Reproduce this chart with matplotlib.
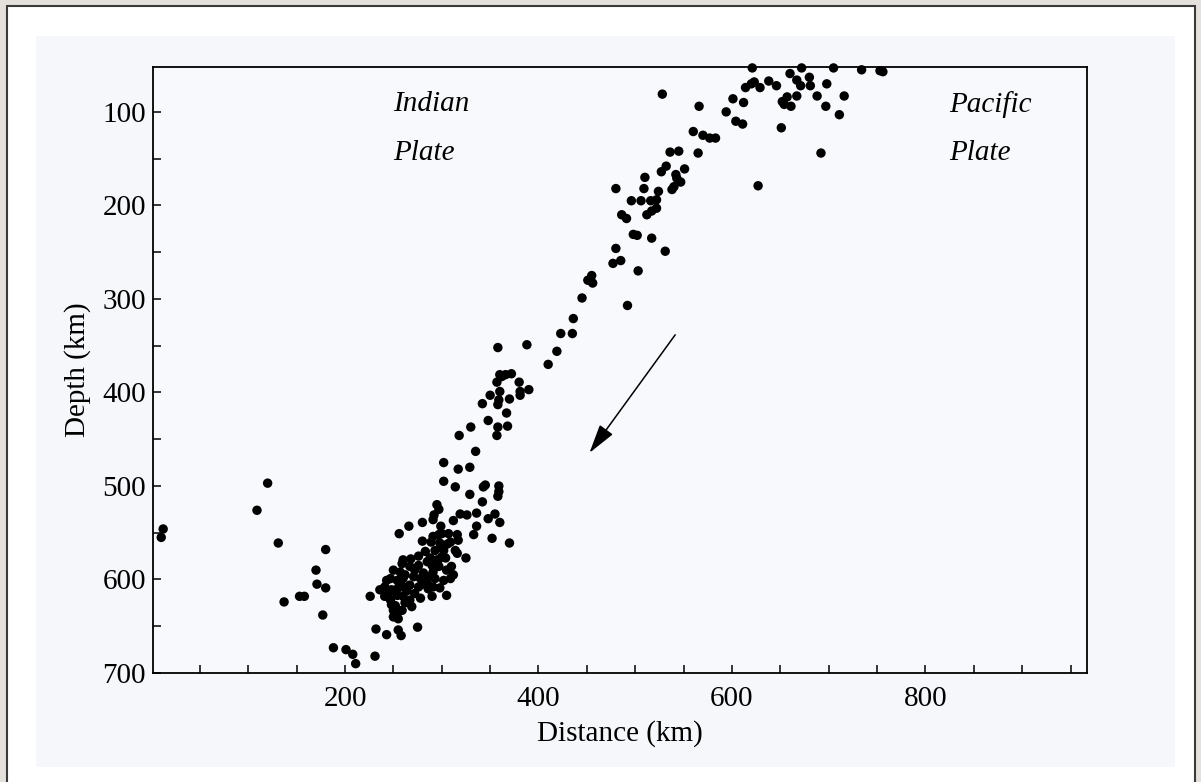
import matplotlib
matplotlib.use("Agg")
import matplotlib.pyplot as plt
from matplotlib.patches import Rectangle
from matplotlib.ticker import MultipleLocator

# earthquake hypocentres (distance km, depth km)
distance = [
    621, 660, 672, 705, 734, 753, 756, 614, 623, 629, 620, 638, 646, 667, 671,
    680, 681, 698, 688, 716, 667, 657, 652, 654, 661, 697, 711, 601, 612, 566,
    594, 604, 611, 651, 560, 570, 577, 583, 565, 692, 551, 627, 528,
    536, 545, 532, 527, 542, 543, 547, 540, 538, 510, 509, 524, 480, 496, 506,
    516, 522, 522, 517, 512, 486, 491, 498, 502, 517, 531, 480, 477, 485, 503,
    455, 451, 456, 445, 492, 436, 423, 435,
    358, 388, 419, 410, 360, 366, 372, 357, 362, 380, 381, 381, 390, 360, 350,
    359, 358, 370, 342, 367, 348, 358, 368, 357, 330, 318, 335, 302, 317, 329,
    302, 314, 345, 343, 359, 359, 358, 329, 342, 295, 297, 292, 291, 280, 299,
    312, 319, 326, 336, 336, 348, 355, 360,
    333, 352, 370, 325, 256, 266, 280, 289, 291, 297, 300, 307, 316, 317, 309,
    298, 302, 293, 314, 316,
    260, 259, 250, 257, 267, 276, 285, 288, 295, 300, 297, 291, 305, 310, 312,
    243, 247, 254, 260, 271, 278, 285, 293, 302, 309, 236, 241, 248, 255, 260,
    267, 276, 285, 291, 298, 226, 241, 247, 254, 260, 267, 278, 290, 305, 248,
    250, 254, 259, 269, 250, 255, 232, 243, 255, 258, 275, 231,
    262, 272, 281, 290, 296, 304, 286, 264, 272, 280, 252, 262, 245, 300, 306,
    283, 276, 268,
    120, 109, 131, 180, 170, 171, 180, 137, 153, 158, 177, 188, 201, 208, 211,
    12, 10,
]
depth = [
    53, 59, 53, 53, 55, 56, 57, 74, 68, 74, 70, 67, 72, 66, 72,
    63, 72, 70, 83, 83, 83, 84, 89, 92, 94, 94, 103, 86, 90, 94,
    100, 110, 113, 117, 121, 125, 128, 128, 144, 144, 161, 179, 81,
    143, 142, 158, 164, 167, 171, 175, 180, 183, 170, 182, 185, 182, 195, 195,
    195, 194, 203, 206, 210, 210, 214, 231, 232, 235, 249, 246, 262, 259, 270,
    275, 280, 283, 299, 307, 321, 337, 337,
    352, 349, 356, 370, 381, 381, 380, 389, 383, 389, 399, 403, 397, 399, 403,
    408, 413, 407, 412, 422, 430, 437, 436, 446, 437, 446, 463, 475, 482, 480,
    495, 501, 499, 501, 500, 506, 511, 509, 517, 520, 525, 531, 536, 539, 543,
    537, 530, 531, 529, 543, 535, 530, 539,
    552, 556, 561, 577, 551, 543, 559, 560, 554, 552, 551, 551, 552, 558, 560,
    561, 569, 569, 569, 572,
    579, 583, 590, 592, 586, 585, 581, 577, 579, 576, 586, 592, 590, 586, 595,
    601, 599, 601, 599, 597, 599, 597, 599, 601, 599, 611, 608, 611, 609, 608,
    606, 608, 604, 608, 609, 618, 618, 622, 617, 618, 622, 620, 618, 617, 627,
    633, 636, 633, 629, 640, 642, 653, 659, 654, 660, 651, 682,
    595, 590, 593, 585, 580, 577, 610, 612, 615, 605, 628, 625, 615, 566, 562,
    570, 575, 578,
    497, 526, 561, 568, 590, 605, 609, 624, 618, 618, 638, 673, 675, 680, 690,
    546, 555,
]

plate_lines = ["Indian", "Plate", "Pacific", "Plate"]
plate_x = [250, 250, 824, 824]
plate_y = [92, 144, 92, 144]

arrow_tail = (543, 336)
arrow_head = (451, 467)

plt.rcParams['font.family'] = ['Liberation Serif', 'DejaVu Serif']

fig = plt.figure(figsize=(12.01, 7.82), dpi=100, facecolor='#e4e1dd')

# scanned page look: white card with a dark edge, slightly bluish print area
fig.patches.append(Rectangle((7 / 1201, -0.01), 1188 / 1201, 1 - 6 / 782 + 0.01,
                             transform=fig.transFigure, facecolor='white',
                             edgecolor='#3a3a3a', linewidth=1.5, zorder=-3))
fig.patches.append(Rectangle((36 / 1201, 1 - 767 / 782), 1139 / 1201, 731 / 782,
                             transform=fig.transFigure, facecolor='#f5f7fb',
                             edgecolor='none', zorder=-2))

ax = fig.add_axes([153 / 1201, 1 - 673 / 782, 934 / 1201, 606 / 782])
ax.set_facecolor('#f8f9fc')

ax.scatter(distance, depth, s=46, color='black', edgecolors='none', clip_on=False, zorder=3)

ax.annotate('', xy=arrow_head, xytext=arrow_tail,
            arrowprops=dict(arrowstyle='-|>,head_length=0.9,head_width=0.25',
                            color='black', lw=1.1, mutation_scale=20))

for label, xpos, ypos in zip(plate_lines, plate_x, plate_y):
    ax.text(xpos, ypos, label, fontsize=21, fontstyle='italic', ha='left', va='center')

ax.set_xlim(1.5, 967)
ax.set_ylim(700, 52)

ax.xaxis.set_major_locator(MultipleLocator(200))
ax.xaxis.set_minor_locator(MultipleLocator(50))
ax.yaxis.set_major_locator(MultipleLocator(100))
ax.yaxis.set_minor_locator(MultipleLocator(50))

ax.tick_params(which='both', direction='in', top=False, right=False,
               length=6, width=1.1, labelsize=21)
ax.tick_params(axis='x', pad=9)
ax.tick_params(axis='y', pad=5)

for sp in ax.spines.values():
    sp.set_linewidth(1.3)

ax.set_xlabel('Distance (km)', fontsize=21, labelpad=6)
ax.set_ylabel('Depth (km)', fontsize=21, labelpad=8)

plt.savefig('out.png', dpi=100, facecolor=fig.get_facecolor())
